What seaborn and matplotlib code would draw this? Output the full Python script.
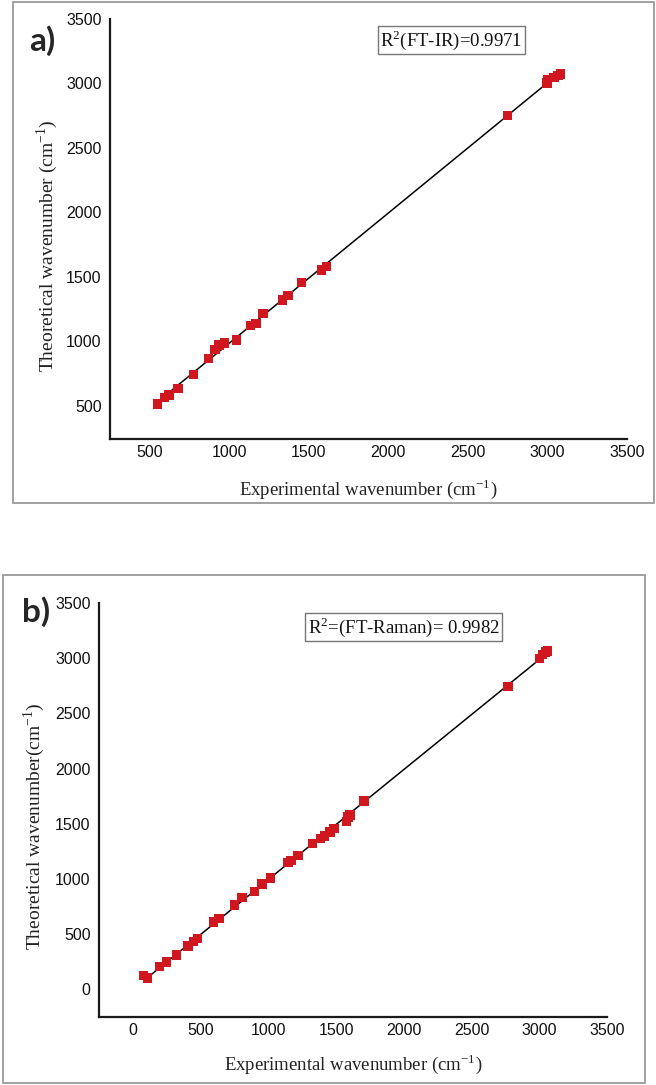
import numpy as np
import pandas as pd
import matplotlib
matplotlib.use('Agg')
import matplotlib.pyplot as plt
from matplotlib.patches import Rectangle
import seaborn as sns

# Panel a) FT-IR: experimental vs theoretical wavenumbers (cm-1)
ir_exp = [550, 593, 622, 677, 775, 870, 910, 934, 971, 1045, 1135, 1167,
          1212, 1333, 1370, 1452, 1579, 1611, 2749, 2997, 3000, 3040, 3066, 3082]
ir_theo = [512, 564, 582, 634, 740, 864, 934, 968, 986, 1009, 1120, 1138,
           1216, 1319, 1356, 1454, 1552, 1578, 2750, 3003, 3027, 3047, 3060, 3073]

# Panel b) FT-Raman
raman_exp = [80, 108, 198, 247, 321, 408, 448, 479, 596, 636, 750, 806, 899,
             954, 1016, 1146, 1167, 1220, 1328, 1387, 1414, 1455, 1485, 1578,
             1587, 1603, 1705, 2770, 3002, 3023, 3045, 3060]
raman_theo = [126, 104, 208, 249, 312, 394, 432, 460, 612, 640, 766, 832, 889,
              955, 1009, 1148, 1170, 1211, 1321, 1365, 1390, 1425, 1457, 1520,
              1561, 1580, 1706, 2746, 2995, 3033, 3058, 3064]

ticks_a = [500, 1000, 1500, 2000, 2500, 3000, 3500]
ticks_b = [0, 500, 1000, 1500, 2000, 2500, 3000, 3500]

sns.set_theme(style='white')
plt.rcParams['font.family'] = ['Liberation Sans', 'DejaVu Sans']

RED = '#d0161e'
SERIF = ['Liberation Serif', 'DejaVu Serif']

fig = plt.figure(figsize=(6.56, 10.85), dpi=100)

# rahmen um die panels
for (x0, y0, w, h) in [(13, 2, 641, 501), (3, 575, 642, 508)]:
    fig.patches.append(Rectangle((x0 / 656, 1 - (y0 + h) / 1085), w / 656, h / 1085,
                                 transform=fig.transFigure, fill=False,
                                 edgecolor='#9a9a9a', lw=1.3))

ax_a = fig.add_axes([110 / 656, 1 - 439 / 1085, 517 / 656, 420 / 1085])
ax_b = fig.add_axes([99 / 656, 1 - 1017 / 1085, 508 / 656, 414 / 1085])

panels = [
    (ax_a, ir_exp, ir_theo, ticks_a, (250, 3500), (240, 3500),
     'Theoretical wavenumber (cm$^{\\mathregular{-1}}$)',
     'R$^{\\mathregular{2}}$(FT-IR)=0.9971', (0.66, 0.95), 'a)', (42, 41),
     -0.097, -0.09),
    (ax_b, raman_exp, raman_theo, ticks_b, (-250, 3500), (-250, 3500),
     'Theoretical wavenumber(cm$^{\\mathregular{-1}}$)',
     'R$^{\\mathregular{2}}$=(FT-Raman)= 0.9982', (0.60, 0.942), 'b)', (36, 612),
     -0.102, -0.085),
]

for ax, xs, ys, ticks, xlim, ylim, ylab, r2, r2pos, letter, lpos, ylx, xly in panels:
    df = pd.DataFrame({'exp': xs, 'theo': ys})
    sns.regplot(data=df, x='exp', y='theo', ax=ax, ci=None, marker='s',
                scatter_kws={'s': 46, 'color': RED, 'edgecolor': 'none',
                             'alpha': 1, 'zorder': 3},
                line_kws={'color': 'black', 'lw': 1.1, 'zorder': 2})
    ax.set_xlim(*xlim)
    ax.set_ylim(*ylim)
    ax.set_xticks(ticks)
    ax.set_yticks(ticks)
    ax.tick_params(axis='both', length=0, labelsize=11.5, colors='#111111')
    ax.tick_params(axis='x', pad=4)
    ax.tick_params(axis='y', pad=6)
    for s in ['top', 'right']:
        ax.spines[s].set_visible(False)
    for s in ['left', 'bottom']:
        ax.spines[s].set_color('#1a1a1a')
        ax.spines[s].set_linewidth(1.6)
    ax.set_xlabel('Experimental wavenumber (cm$^{\\mathregular{-1}}$)',
                  family=SERIF, fontsize=13.5, color='#222222')
    ax.set_ylabel(ylab, family=SERIF, fontsize=14, color='#222222')
    ax.xaxis.set_label_coords(0.5, xly)
    ax.yaxis.set_label_coords(ylx, 0.46)
    ax.text(r2pos[0], r2pos[1], r2, transform=ax.transAxes, ha='center',
            va='center', family=SERIF, fontsize=13.5, color='#111111',
            bbox=dict(boxstyle='square,pad=0.13', fc='white', ec='#777777', lw=1))
    fig.text(lpos[0] / 656, 1 - lpos[1] / 1085, letter, ha='center', va='center',
             family=['Lato', 'DejaVu Sans'], fontweight='bold', fontsize=24)

fig.savefig('out.png', dpi=100)
